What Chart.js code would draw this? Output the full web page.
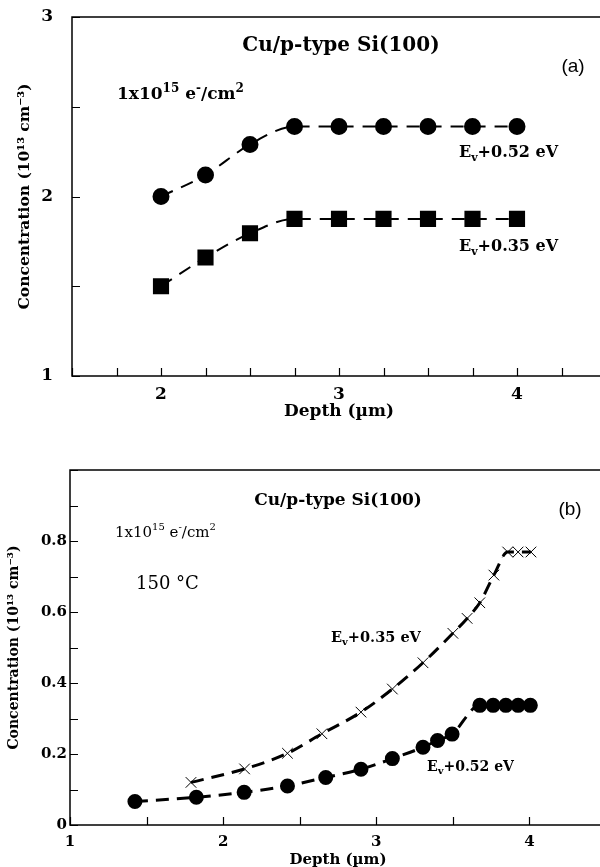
<!DOCTYPE html>
<html>
<head>
<meta charset="utf-8">
<script src="https://cdn.jsdelivr.net/npm/chart.js@4"></script>
<style>
  html, body { margin: 0; padding: 0; background: #fff; overflow: hidden; }
  #wrap { position: relative; width: 600px; height: 867px; overflow: hidden; }
  .box { position: absolute; left: 0; }
  #boxA { top: 0; }
  #boxB { top: 430px; }
</style>
</head>
<body>
<div id="wrap">
  <div class="box" id="boxA"><canvas id="chartA" width="620" height="430"></canvas></div>
  <div class="box" id="boxB"><canvas id="chartB" width="620" height="437"></canvas></div>
</div>
<script>
// panel (a): trap concentration vs depth, 1x10^15 e-/cm2
const depthA = [2, 2.25, 2.5, 2.75, 3, 3.25, 3.5, 3.75, 4]
const trap052A = [2.0, 2.12, 2.29, 2.39, 2.39, 2.39, 2.39, 2.39, 2.39]
const trap035A = [1.5, 1.66, 1.795, 1.875, 1.875, 1.875, 1.875, 1.875, 1.875]
const xLabelsA = [2, 3, 4]
const yLabelsA = [1, 2, 3]

// panel (b): after 150 C
const depth035B = [1.79, 2.14, 2.42, 2.645, 2.9, 3.105, 3.305, 3.5, 3.593, 3.676, 3.768, 3.858, 3.926, 4.01]
const trap035B = [0.12, 0.158, 0.202, 0.257, 0.318, 0.383, 0.457, 0.54, 0.582, 0.626, 0.704, 0.769, 0.769, 0.769]
const depth052B = [1.424, 1.825, 2.137, 2.42, 2.67, 2.9, 3.105, 3.305, 3.4, 3.495, 3.676, 3.763, 3.846, 3.926, 4.006]
const trap052B = [0.066, 0.078, 0.092, 0.11, 0.134, 0.157, 0.187, 0.219, 0.238, 0.256, 0.337, 0.337, 0.337, 0.337, 0.337]
const xLabelsB = [1, 2, 3, 4]
const yLabelsB = [0, 0.2, 0.4, 0.6, 0.8]

const SERIF = "'DejaVu Serif', serif"
const SANS = "'Liberation Sans', Arial, sans-serif"

const toPoints = (xs, ys) => xs.map((x, i) => ({ x: x, y: ys[i] }))
const round2 = v => Math.round(v * 100) / 100

function drawParts(ctx, x, y, parts, size, weight, family, align) {
    const fontFor = m => weight + " " + (m ? Math.round(size * 0.68) : size) + "px " + family
    let total = 0
    parts.forEach(([t, m]) => { ctx.font = fontFor(m); total += ctx.measureText(t).width })
    let cx = align === "center" ? x - total / 2 : x
    ctx.textBaseline = "middle"
    ctx.textAlign = "left"
    parts.forEach(([t, m]) => {
        ctx.font = fontFor(m)
        const dy = m === "sup" ? -size * 0.35 : m === "sub" ? size * 0.3 : 0
        ctx.fillText(t, cx, y + dy)
        cx += ctx.measureText(t).width
    })
}

// frame + inward tick marks + free text
const frameNotes = {
    id: "frameNotes",
    afterDraw(chart, args, opts) {
        const { ctx, chartArea: a, scales } = chart
        ctx.save()
        ctx.strokeStyle = "#000"
        ctx.lineWidth = 1.5
        ctx.strokeRect(a.left, a.top, a.right - a.left, a.bottom - a.top)
        ctx.lineWidth = 1.2
        ctx.beginPath()
        scales.x.ticks.forEach(t => {
            const px = Math.round(scales.x.getPixelForValue(t.value)) + 0.5
            ctx.moveTo(px, a.bottom)
            ctx.lineTo(px, a.bottom - opts.tick)
        })
        scales.y.ticks.forEach(t => {
            const py = Math.round(scales.y.getPixelForValue(t.value)) + 0.5
            ctx.moveTo(a.left, py)
            ctx.lineTo(a.left + opts.tick, py)
        })
        ctx.stroke()
        ctx.fillStyle = "#000"
        opts.notes.forEach(n => drawParts(ctx, n.x, n.y, n.parts, n.size, n.weight || "bold", n.family || SERIF, n.align))
        ctx.restore()
    }
}

function makeChart(id, cfg) {
    return new Chart(document.getElementById(id).getContext("2d"), {
        type: "line",
        data: { datasets: cfg.datasets },
        options: {
            responsive: false,
            animation: false,
            layout: { padding: { top: cfg.top, right: 14, left: 0, bottom: 0 } },
            plugins: {
                legend: { display: false },
                tooltip: { enabled: false },
                frameNotes: { tick: 8, notes: cfg.notes }
            },
            scales: {
                x: {
                    type: "linear",
                    min: cfg.xMin, max: cfg.xMax,
                    grid: { display: false, drawTicks: false },
                    border: { display: false },
                    afterFit: s => { s.height = cfg.xHeight; s.paddingLeft = 0; s.paddingRight = 0 },
                    ticks: {
                        stepSize: cfg.xStep, autoSkip: false, maxRotation: 0,
                        padding: cfg.xPad, color: "#000",
                        font: { family: SERIF, weight: "bold", size: cfg.tickSize },
                        callback: v => cfg.xLabels.includes(round2(v)) ? String(round2(v)) : ""
                    },
                    title: {
                        display: true, text: "Depth (µm)", color: "#000",
                        font: { family: SERIF, weight: "bold", size: cfg.xTitleSize },
                        padding: { top: 0, bottom: cfg.xTitlePad }
                    }
                },
                y: {
                    min: cfg.yMin, max: cfg.yMax,
                    grid: { display: false, drawTicks: false },
                    border: { display: false },
                    afterFit: s => { s.width = cfg.yWidth; s.paddingTop = 0; s.paddingBottom = 0 },
                    ticks: {
                        stepSize: cfg.yStep, autoSkip: false,
                        padding: cfg.yPad, color: "#000",
                        font: { family: SERIF, weight: "bold", size: cfg.tickSize },
                        callback: v => cfg.yLabels.includes(round2(v)) ? String(round2(v)) : ""
                    },
                    title: {
                        display: true, text: "Concentration (10¹³ cm⁻³)", color: "#000",
                        font: { family: SERIF, weight: "bold", size: cfg.yTitleSize },
                        padding: { top: cfg.yTitlePad, bottom: 0 }
                    }
                }
            }
        },
        plugins: [frameNotes]
    })
}

const dashed = { borderColor: "#000", backgroundColor: "#000",
    pointBackgroundColor: "#000", pointBorderColor: "#000", fill: false,
    tension: 0.4, cubicInterpolationMode: "monotone" }

makeChart("chartA", {
    top: 17, xHeight: 54, yWidth: 72, xPad: 8, yPad: 19, xTitlePad: 8, yTitlePad: 16,
    xMin: 1.5, xMax: 4.5, xStep: 0.25, yMin: 1, yMax: 3, yStep: 0.5,
    xLabels: xLabelsA, yLabels: yLabelsA, tickSize: 17, xTitleSize: 17, yTitleSize: 15.5,
    datasets: [
        Object.assign({}, dashed, { data: toPoints(depthA, trap052A), borderWidth: 2, borderDash: [13, 9], pointStyle: "circle", pointRadius: 7.5 }),
        Object.assign({}, dashed, { data: toPoints(depthA, trap035A), borderWidth: 2, borderDash: [13, 9], pointStyle: "rect", pointRadius: 10 })
    ],
    notes: [
        { x: 341, y: 46, parts: [["Cu/p-type Si(100)"]], size: 20, align: "center" },
        { x: 573, y: 67, parts: [["(a)"]], size: 19, weight: "normal", family: SANS, align: "center" },
        { x: 117, y: 95, parts: [["1x10"], ["15", "sup"], [" e"], ["-", "sup"], ["/cm"], ["2", "sup"]], size: 17 },
        { x: 459, y: 153, parts: [["E"], ["v", "sub"], ["+0.52 eV"]], size: 16 },
        { x: 459, y: 247, parts: [["E"], ["v", "sub"], ["+0.35 eV"]], size: 16 }
    ]
})

makeChart("chartB", {
    top: 40, xHeight: 42, yWidth: 70, xPad: 8, yPad: 3, xTitlePad: -2, yTitlePad: 6,
    xMin: 1, xMax: 4.5, xStep: 0.5, yMin: 0, yMax: 1, yStep: 0.1,
    xLabels: xLabelsB, yLabels: yLabelsB, tickSize: 15, xTitleSize: 15, yTitleSize: 14,
    datasets: [
        Object.assign({}, dashed, { data: toPoints(depth035B, trap035B), borderWidth: 3, borderDash: [13, 8], pointStyle: "crossRot", pointRadius: 7.5, pointBorderWidth: 1 }),
        Object.assign({}, dashed, { data: toPoints(depth052B, trap052B), borderWidth: 3, borderDash: [13, 8], pointStyle: "circle", pointRadius: 6 })
    ],
    notes: [
        { x: 338, y: 71, parts: [["Cu/p-type Si(100)"]], size: 17, align: "center" },
        { x: 570, y: 80, parts: [["(b)"]], size: 19, weight: "normal", family: SANS, align: "center" },
        { x: 115, y: 103, parts: [["1x10"], ["15", "sup"], [" e"], ["-", "sup"], ["/cm"], ["2", "sup"]], size: 15, weight: "normal" },
        { x: 136, y: 154, parts: [["150 °C"]], size: 18, weight: "normal" },
        { x: 331, y: 208, parts: [["E"], ["v", "sub"], ["+0.35 eV"]], size: 14.5 },
        { x: 427, y: 337, parts: [["E"], ["v", "sub"], ["+0.52 eV"]], size: 14 }
    ]
})
</script>
</body>
</html>
